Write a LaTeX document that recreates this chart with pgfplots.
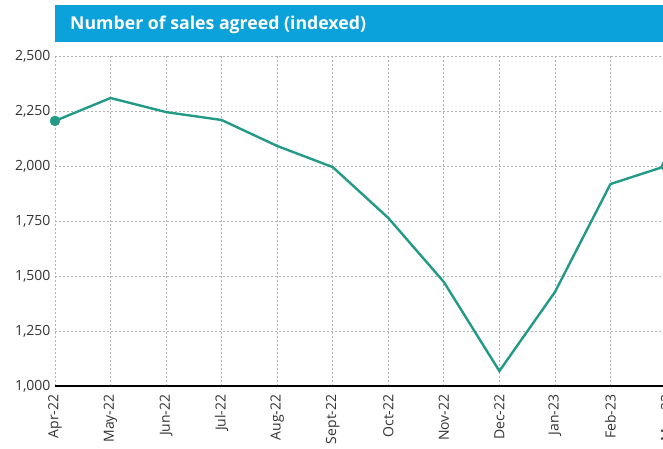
\documentclass[border=0pt]{standalone}
\usepackage{pgfplots}
\pgfplotsset{compat=1.18}
\usepackage{fontspec}
\setmainfont{Open Sans}
\definecolor{titleblue}{HTML}{0BA1DB}
\definecolor{linecol}{HTML}{229A86}
\definecolor{txt}{HTML}{333333}
\begin{document}
\begin{tikzpicture}[x=1pt,y=1pt]
\useasboundingbox (0,0) rectangle (663,449);
\fill[titleblue] (55,407) rectangle (663,444);
\node[anchor=base west, text=white, inner sep=0pt, font=\bfseries\fontsize{17.7}{20}\selectfont] at (70,419) {Number of sales agreed (indexed)};
\begin{axis}[
  at={(55pt,63pt)}, anchor=south west,
  scale only axis, width=611pt, height=330pt,
  xmin=0, xmax=11, ymin=1000, ymax=2500,
  ytick={1000,1250,1500,1750,2000,2250,2500},
  xtick={0,...,11},
  xticklabels={Apr-22,May-22,Jun-22,Jul-22,Aug-22,Sept-22,Oct-22,Nov-22,Dec-22,Jan-23,Feb-23,Mar-23},
  /pgf/number format/.cd, 1000 sep={,}, assume math mode=true, /pgfplots/.cd,
  grid=major,
  major grid style={gray!60, line width=0.7pt, dash pattern=on 2pt off 2pt},
  major tick length=0pt,
  axis x line*=bottom, axis y line*=left,
  x axis line style={black, line width=2.6pt, -},
  y axis line style={draw=none},
  xticklabel style={rotate=90, anchor=east, text=txt, font=\fontsize{14}{16}\selectfont, xshift=-5pt},
  yticklabel style={text=txt, font=\fontsize{14}{16}\selectfont, xshift=-1pt},
  clip=false,
]
\addplot[linecol, line width=2.4pt, mark=*, mark indices={1,12}, mark size=5pt, mark options={solid, fill=linecol, draw=linecol, line width=0.4pt}]
coordinates {(0,2205) (1,2309) (2,2245) (3,2209) (4,2091) (5,1995) (6,1764) (7,1473) (8,1068) (9,1427) (10,1918) (11,2000)};
\end{axis}
\end{tikzpicture}
\end{document}
